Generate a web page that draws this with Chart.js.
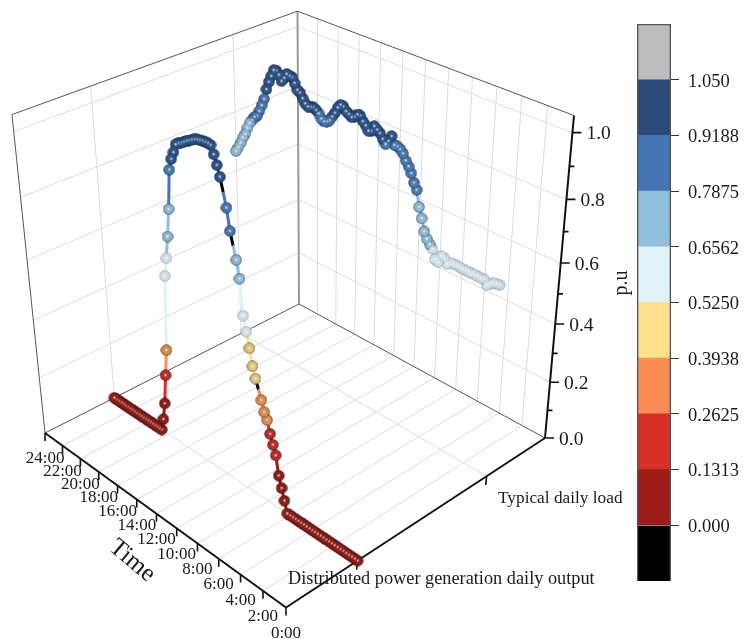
<!DOCTYPE html>
<html>
<head>
<meta charset="utf-8">
<style>
  html, body { margin: 0; padding: 0; background: #fff; }
  #wrap { position: relative; width: 751px; height: 639px; overflow: hidden; }
  canvas { position: absolute; left: 0; top: 0; }
</style>
<script src="https://cdn.jsdelivr.net/npm/chart.js@4"></script>
</head>
<body>
<div id="wrap">
  <canvas id="chart" width="751" height="639"></canvas>
  <canvas id="bar" width="751" height="639"></canvas>
</div>
<script>
const timeLabels = ['0:00', '2:00', '4:00', '6:00', '8:00', '10:00', '12:00', '14:00', '16:00', '18:00', '20:00', '22:00', '24:00'];
const timeTicks = [0, 2, 4, 6, 8, 10, 12, 14, 16, 18, 20, 22, 24];
const valueTicks = [0, 0.2, 0.4, 0.6, 0.8, 1.0];
const valueMinorTicks = [0.1, 0.3, 0.5, 0.7, 0.9];
const seriesNames = ['Distributed power generation daily output', 'Typical daily load'];
const seriesDepth = [0.25, 0.75];

// one reading every 15 minutes, null = missing reading (drawn black in the original)
const sampleHours = [
  0, .25, .5, .75, 1, 1.25, 1.5, 1.75, 2, 2.25, 2.5, 2.75, 3, 3.25, 3.5, 3.75, 4, 4.25, 4.5, 4.75,
  5, 5.25, 5.5, 5.75, 6, 6.25, 6.5, 6.75, 7, 7.25, 7.5, 7.75, 8, 8.25, 8.5, 8.75, 9, 9.25, 9.5, 9.75,
  10, 10.25, 10.5, 10.75, 11, 11.25, 11.5, 11.75, 12, 12.25, 12.5, 12.75, 13, 13.25, 13.5, 13.75,
  14, 14.25, 14.5, 14.75, 15, 15.25, 15.5, 15.75, 16, 16.25, 16.5, 16.75, 17, 17.25, 17.5, 17.75,
  18, 18.25, 18.5, 18.75, 19, 19.25, 19.5, 19.75, 20, 20.25, 20.5, 20.75, 21, 21.25, 21.5, 21.75,
  22, 22.25, 22.5, 22.75, 23, 23.25, 23.5, 23.75, 24
];
const distributedOutput = [
  0, 0, 0, 0, 0, 0, 0, 0, 0, 0, 0, 0, 0, 0, 0, 0, 0, 0, 0, 0, 0, 0, 0, 0, 0, 0,
  .039, .077, .114, .178, .208, .239, .280, .301, .335, null, .395, .430, .483, .531, .577, .687, .740, null,
  .818, .883, null, .965, .995, 1.022, 1.045, 1.047, 1.047, 1.046, 1.044, 1.042, 1.038, 1.033, 1.027, 1.022,
  1.015, 1.009, 1.004, .997, .970, .946, .910, .786, .696, .622, .560, .306, .213, .107, .044,
  0, 0, 0, 0, 0, 0, 0, 0, 0, 0, 0, 0, 0, 0, 0, 0, 0, 0, 0, 0, 0, 0
];
const typicalLoad = [
  .640, .638, .637, .629, .621, .635, .633, .635, .634, .635, .634, .635, .634, .636, .637, .636, .635, .627,
  .641, .643, .619, .624, .652, .662, .675, .694, .731, .762, .811, .829, .854, .871, .885, .903,
  .912, .917, .917, .940, .921, .908, .920, .934, .941, .948, .929, .926, .939, .948, .962, .961, .950, .946,
  .952, .957, .968, .969, .957, .937, .922, .906, .899, .896, .901, .914, .921, .926, .923, .921, .927, .940,
  .954, .959, .977, .992, .993, .995, .979, .966, .982, .992, .990, .968, .946, .919, .884, .860, .838, .818,
  .811, .797, .784, .764, .740, .724, .702, .684, .667
];

const colorbarEdges = [0, 0.1313, 0.2625, 0.3938, 0.525, 0.6562, 0.7875, 0.9188, 1.05];
const colorbarLabels = ['0.000', '0.1313', '0.2625', '0.3938', '0.5250', '0.6562', '0.7875', '0.9188', '1.050'];
const colorbarColors = ['#000000', '#9b1c18', '#d73027', '#fc8d59', '#fee090', '#e0f3f8', '#91bfdb', '#4575b4', '#2b4a78', '#bdbdbd'];
const ballColors = ['#000000', '#8e2019', '#b8302a', '#dc8a50', '#dcc67c', '#d0dfe8', '#8fb8d2', '#4a7ab0', '#2f5488', '#bdbdbd'];

const FONT = '"Liberation Serif", "Times New Roman", serif';
const VMAX = 1.05;

// perspective box: hour 0-24, depth 0-1, value 0-1.05 -> page position
function project(hour, depth, value) {
  const t = hour / 24, v = value / VMAX;
  const w = 1 + 0.16167 * t + 0.1466 * depth - 0.1274 * v;
  return {
    x: (286 - 233.7 * t + 338.9 * depth - 39.9 * v) / w,
    y: (607.5 - 104.5 * t - 105.3 * depth - 384.5 * v) / w
  };
}

function bandOf(value) {
  let i = 1;
  while (i < colorbarEdges.length - 1 && value >= colorbarEdges[i]) i++;
  return i;
}

function rgb(hex) {
  const n = parseInt(hex.slice(1), 16);
  return [n >> 16, (n >> 8) & 255, n & 255];
}

function shade(hex, k) {
  const c = rgb(hex);
  return 'rgb(' + c.map(v => Math.round(v * k)).join(',') + ')';
}

function tint(hex, k, alpha) {
  const c = rgb(hex);
  return 'rgba(' + c.map(v => Math.round(v + (255 - v) * k)).join(',') + ',' + alpha + ')';
}

const sphereCache = {};
function sphere(color) {
  if (sphereCache[color]) return sphereCache[color];
  const c = document.createElement('canvas');
  c.width = c.height = 12;
  const g = c.getContext('2d');
  const light = rgb(color)[2] > 180 && rgb(color)[0] > 180;
  const grad = g.createRadialGradient(6, 6, 1, 6, 6, 5.7);
  grad.addColorStop(0, color);
  grad.addColorStop(0.65, color);
  grad.addColorStop(1, shade(color, light ? 0.75 : 0.5));
  g.fillStyle = grad;
  g.beginPath();
  g.arc(6, 6, 5.7, 0, Math.PI * 2);
  g.fill();
  sphereCache[color] = c;
  return c;
}

// the balls cut into each other in the original, so every centre stays visible
const coreCache = {};
function core(color) {
  if (coreCache[color]) return coreCache[color];
  const c = document.createElement('canvas');
  c.width = c.height = 7;
  const g = c.getContext('2d');
  const grad = g.createRadialGradient(3.5, 3.2, 0, 3.5, 3.5, 3.5);
  grad.addColorStop(0, tint(color, 0.9, 1));
  grad.addColorStop(0.22, tint(color, 0.6, 1));
  grad.addColorStop(0.5, tint(color, 0, 1));
  grad.addColorStop(0.75, tint(color, 0, 0.8));
  grad.addColorStop(1, tint(color, 0, 0));
  g.fillStyle = grad;
  g.fillRect(0, 0, 7, 7);
  coreCache[color] = c;
  return c;
}

// a line piece keeps the colour of the reading it starts from; a missing reading turns black halfway
function lineColors(values) {
  const cache = {};
  return ctx => {
    let a = ctx.p0DataIndex, b = ctx.p1DataIndex;
    if (values[a] === null) a--;
    if (values[b] === null) b++;
    const c0 = colorbarColors[bandOf(values[a])];
    if (b - a === 1) return c0;
    const key = a + '-' + b;
    if (cache[key]) return cache[key];
    const pts = ctx.chart.getDatasetMeta(ctx.datasetIndex).data;
    const g = ctx.chart.ctx.createLinearGradient(pts[a].x, pts[a].y, pts[b].x, pts[b].y);
    g.addColorStop(0, c0);
    g.addColorStop(0.5, c0);
    g.addColorStop(0.5, '#000000');
    g.addColorStop(1, '#000000');
    cache[key] = g;
    return g;
  };
}

function seriesData(values, depth) {
  return values.map((v, i) => v === null ? { x: null, y: null } : project(sampleHours[i], depth, v));
}

function seriesDataset(name, values, depth) {
  return {
    label: name,
    data: seriesData(values, depth),
    showLine: true,
    spanGaps: true,
    borderWidth: 3,
    segment: { borderColor: lineColors(values) },
    pointRadius: 5,
    pointStyle: ctx => sphere(ballColors[bandOf(values[ctx.dataIndex])])
  };
}

function coreDataset(name, values, depth) {
  return {
    label: name + ' highlights',
    data: seriesData(values, depth),
    showLine: false,
    pointRadius: 3,
    pointStyle: ctx => core(ballColors[bandOf(values[ctx.dataIndex])])
  };
}

function lineDataset(segments, color, width) {
  const data = [];
  segments.forEach(s => { data.push(s[0], s[1], { x: null, y: null }); });
  return { data: data, showLine: true, spanGaps: false, borderColor: color, borderWidth: width, pointRadius: 0 };
}

function shift(p, dx, dy) { return { x: p.x + dx, y: p.y + dy }; }

const gridSegments = [];
timeTicks.slice(1, -1).forEach(h => {
  gridSegments.push([project(h, 0, 0), project(h, 1, 0)]);
  gridSegments.push([project(h, 1, 0), project(h, 1, VMAX)]);
});
seriesDepth.forEach(d => {
  gridSegments.push([project(0, d, 0), project(24, d, 0)]);
  gridSegments.push([project(24, d, 0), project(24, d, VMAX)]);
});
valueTicks.slice(1).forEach(v => {
  gridSegments.push([project(24, 0, v), project(24, 1, v)]);
  gridSegments.push([project(24, 1, v), project(0, 1, v)]);
});

const wallSegments = [
  [project(24, 0, 0), project(24, 0, VMAX)],
  [project(24, 0, VMAX), project(24, 1, VMAX)],
  [project(24, 1, VMAX), project(0, 1, VMAX)],
  [project(24, 0, 0), project(24, 1, 0)],
  [project(24, 1, 0), project(0, 1, 0)]
];
const backEdge = [[project(24, 1, 0), project(24, 1, VMAX)]];
const axisSegments = [
  [project(0, 0, 0), project(24, 0, 0)],
  [project(0, 0, 0), project(0, 1, 0)],
  [project(0, 1, 0), project(0, 1, VMAX)]
];
const tickSegments = [];
timeTicks.forEach(h => { const p = project(h, 0, 0); tickSegments.push([p, shift(p, 0, 8)]); });
seriesDepth.forEach(d => { const p = project(0, d, 0); tickSegments.push([p, shift(p, -1, 9)]); });
valueTicks.forEach(v => { const p = project(0, 1, v); tickSegments.push([p, shift(p, 9, 0)]); });
valueMinorTicks.forEach(v => { const p = project(0, 1, v); tickSegments.push([p, shift(p, 5, 0)]); });

// tick labels and titles
const textPlugin = {
  id: 'boxText',
  afterDatasetsDraw(chart) {
    const c = chart.ctx;
    c.save();
    c.fillStyle = '#1a1a1a';
    c.textBaseline = 'middle';
    c.textAlign = 'center';
    c.font = '17px ' + FONT;
    timeTicks.forEach((h, i) => {
      const p = project(h, 0, 0);
      c.fillText(timeLabels[i], p.x, p.y + 26);
    });
    c.textAlign = 'left';
    c.font = '19.5px ' + FONT;
    valueTicks.forEach(v => {
      const p = project(0, 1, v);
      c.fillText(v.toFixed(1), p.x + 14, p.y + 1.5);
    });
    c.font = '18.3px ' + FONT;
    c.fillText(seriesNames[0], 288, 579);
    c.font = '17.3px ' + FONT;
    c.fillText(seriesNames[1], 498, 498);
    c.save();
    c.translate(132, 561);
    c.rotate(40 * Math.PI / 180);
    c.textAlign = 'center';
    c.font = '25px ' + FONT;
    c.fillText('Time', 0, 0);
    c.restore();
    c.save();
    c.translate(622, 283);
    c.rotate(-Math.PI / 2);
    c.textAlign = 'center';
    c.font = '20px ' + FONT;
    c.fillText('p.u', 0, 0);
    c.restore();
    c.restore();
  }
};

new Chart(document.getElementById('chart'), {
  type: 'scatter',
  data: {
    datasets: [
      coreDataset(seriesNames[0], distributedOutput, seriesDepth[0]),
      seriesDataset(seriesNames[0], distributedOutput, seriesDepth[0]),
      coreDataset(seriesNames[1], typicalLoad, seriesDepth[1]),
      seriesDataset(seriesNames[1], typicalLoad, seriesDepth[1]),
      lineDataset(axisSegments, '#111', 2),
      lineDataset(tickSegments, '#111', 1.6),
      lineDataset(wallSegments, '#555', 1),
      lineDataset(backEdge, '#999', 2),
      lineDataset(gridSegments, '#dcdcdc', 1)
    ]
  },
  options: {
    responsive: false,
    animation: false,
    events: [],
    layout: { padding: 0, autoPadding: false },
    plugins: { legend: { display: false }, tooltip: { enabled: false } },
    scales: {
      x: { type: 'linear', min: 0, max: 751, display: false },
      y: { type: 'linear', min: 0, max: 639, reverse: true, display: false }
    }
  },
  plugins: [textPlugin]
});

// colour bar: one band below 0.000 and one above 1.050
const barStep = colorbarEdges[1];
const barLow = colorbarEdges[0] - barStep;
const barHigh = colorbarEdges[colorbarEdges.length - 1] + barStep;
const barEdges = [barLow].concat(colorbarEdges, [barHigh]);

new Chart(document.getElementById('bar'), {
  type: 'bar',
  data: {
    labels: ['p.u'],
    datasets: [{
      data: [[barLow, barHigh]],
      backgroundColor: 'rgba(0,0,0,0)',
      borderColor: '#555',
      borderWidth: 1
    }].concat(colorbarColors.map((col, i) => ({
      data: [[barEdges[i], barEdges[i + 1]]],
      backgroundColor: col,
      borderWidth: 0
    })))
  },
  options: {
    responsive: false,
    animation: false,
    events: [],
    layout: { padding: { left: 637, top: 24, bottom: 58, right: 0 } },
    plugins: { legend: { display: false }, tooltip: { enabled: false } },
    datasets: { bar: { grouped: false, barPercentage: 1, categoryPercentage: 1 } },
    scales: {
      x: { display: false },
      y: {
        position: 'right',
        min: barLow,
        max: barHigh,
        afterFit: s => { s.width = 80; },
        afterBuildTicks: s => { s.ticks = colorbarEdges.map(v => ({ value: v })); },
        border: { display: false },
        grid: { drawOnChartArea: false, tickLength: 8, color: '#333' },
        ticks: {
          autoSkip: false,
          padding: 9,
          labelOffset: 2,
          color: '#1a1a1a',
          font: { family: FONT, size: 18.5 },
          callback: (v, i) => colorbarLabels[i]
        }
      }
    }
  }
});
</script>
</body>
</html>
